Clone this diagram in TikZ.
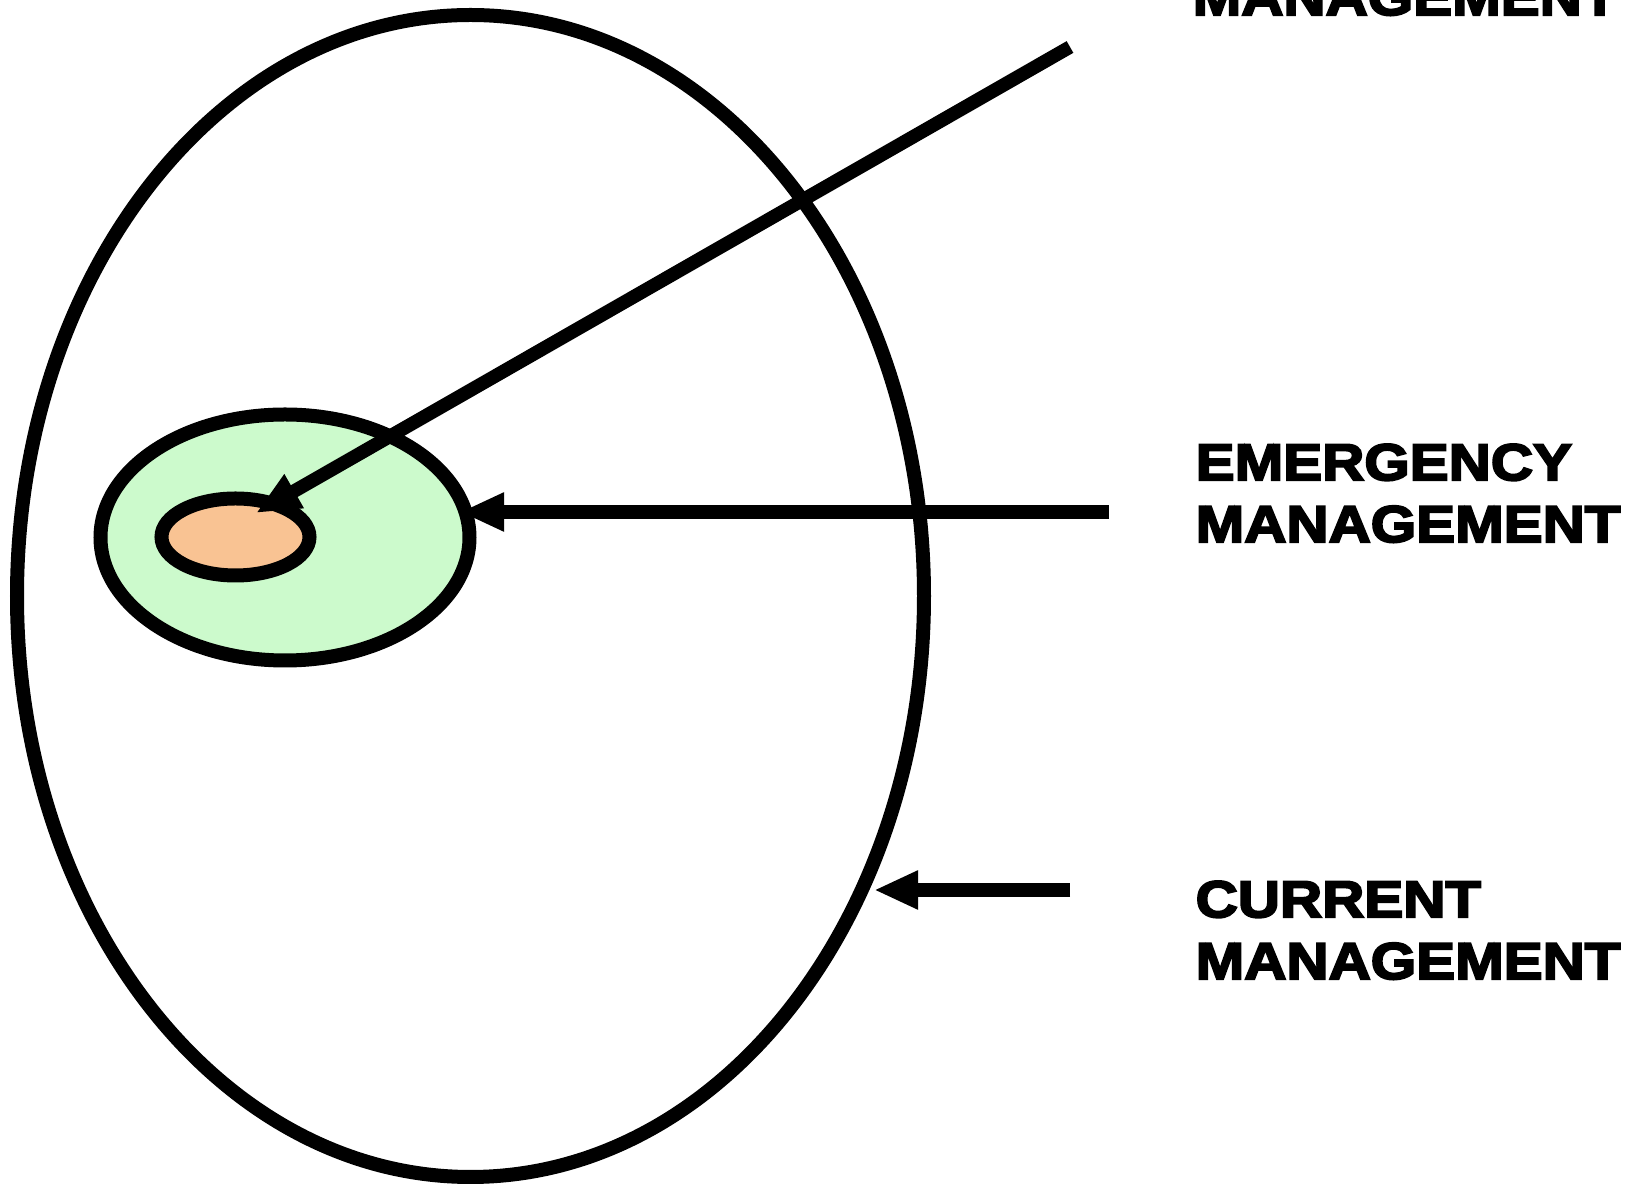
\documentclass[tikz,border=0pt]{standalone}
\usepackage{fontspec}
\setmainfont{Liberation Sans}
\newfontfamily\labelfont[FakeStretch=1.13,FakeBold=4]{Liberation Sans Bold}
\usepackage{xcolor}
\usetikzlibrary{arrows.meta,positioning,shapes.geometric}
\definecolor{zonegreen}{HTML}{CCFACC}
\definecolor{corepeach}{HTML}{F9C393}

\begin{document}
\begin{tikzpicture}
    \tikzset{
      zone/.style={ellipse,draw=black,line width=0.14cm,inner sep=0pt},
      tag/.style={anchor=base west,align=left,inner sep=0pt,font=\labelfont\fontsize{14.7}{17.6}\selectfont},
      arrow/.style={-{Triangle[length=4.4mm,width=3.6mm]},draw=black,line width=0.135cm}
    }
    \useasboundingbox (0,0) rectangle (16.41,11.86);
    \node[zone,minimum width=9.07cm,minimum height=11.62cm] (outer) at (4.705,5.90) {};
    \node[zone,fill=zonegreen,minimum width=3.69cm,minimum height=2.46cm] (green) at (2.85,6.485) {};
    \node[zone,fill=corepeach,minimum width=1.48cm,minimum height=0.77cm] (core) at (2.355,6.49) {};
    % arrow ends
    \coordinate (topstart) at (10.70,11.39);
    \coordinate (coretip) at (2.56,6.73);
    \coordinate (midstart) at (11.09,6.74);
    \coordinate (greentip) at (4.60,6.74);
    \coordinate (lowstart) at (10.70,2.96);
    \coordinate (outertip) at (8.74,2.96);
    \draw[arrow] (topstart) -- (coretip);
    \draw[arrow] (midstart) -- (greentip);
    \draw[arrow] (lowstart) -- (outertip);
    % labels
    \node[tag] (toplabel) at (11.92,11.71) {MANAGEMENT};
    \node[tag] (emlabel) at (11.95,6.44) {EMERGENCY\\MANAGEMENT};
    \node[tag] (curlabel) at (11.95,2.07) {CURRENT\\MANAGEMENT};
  \end{tikzpicture}
\end{document}
